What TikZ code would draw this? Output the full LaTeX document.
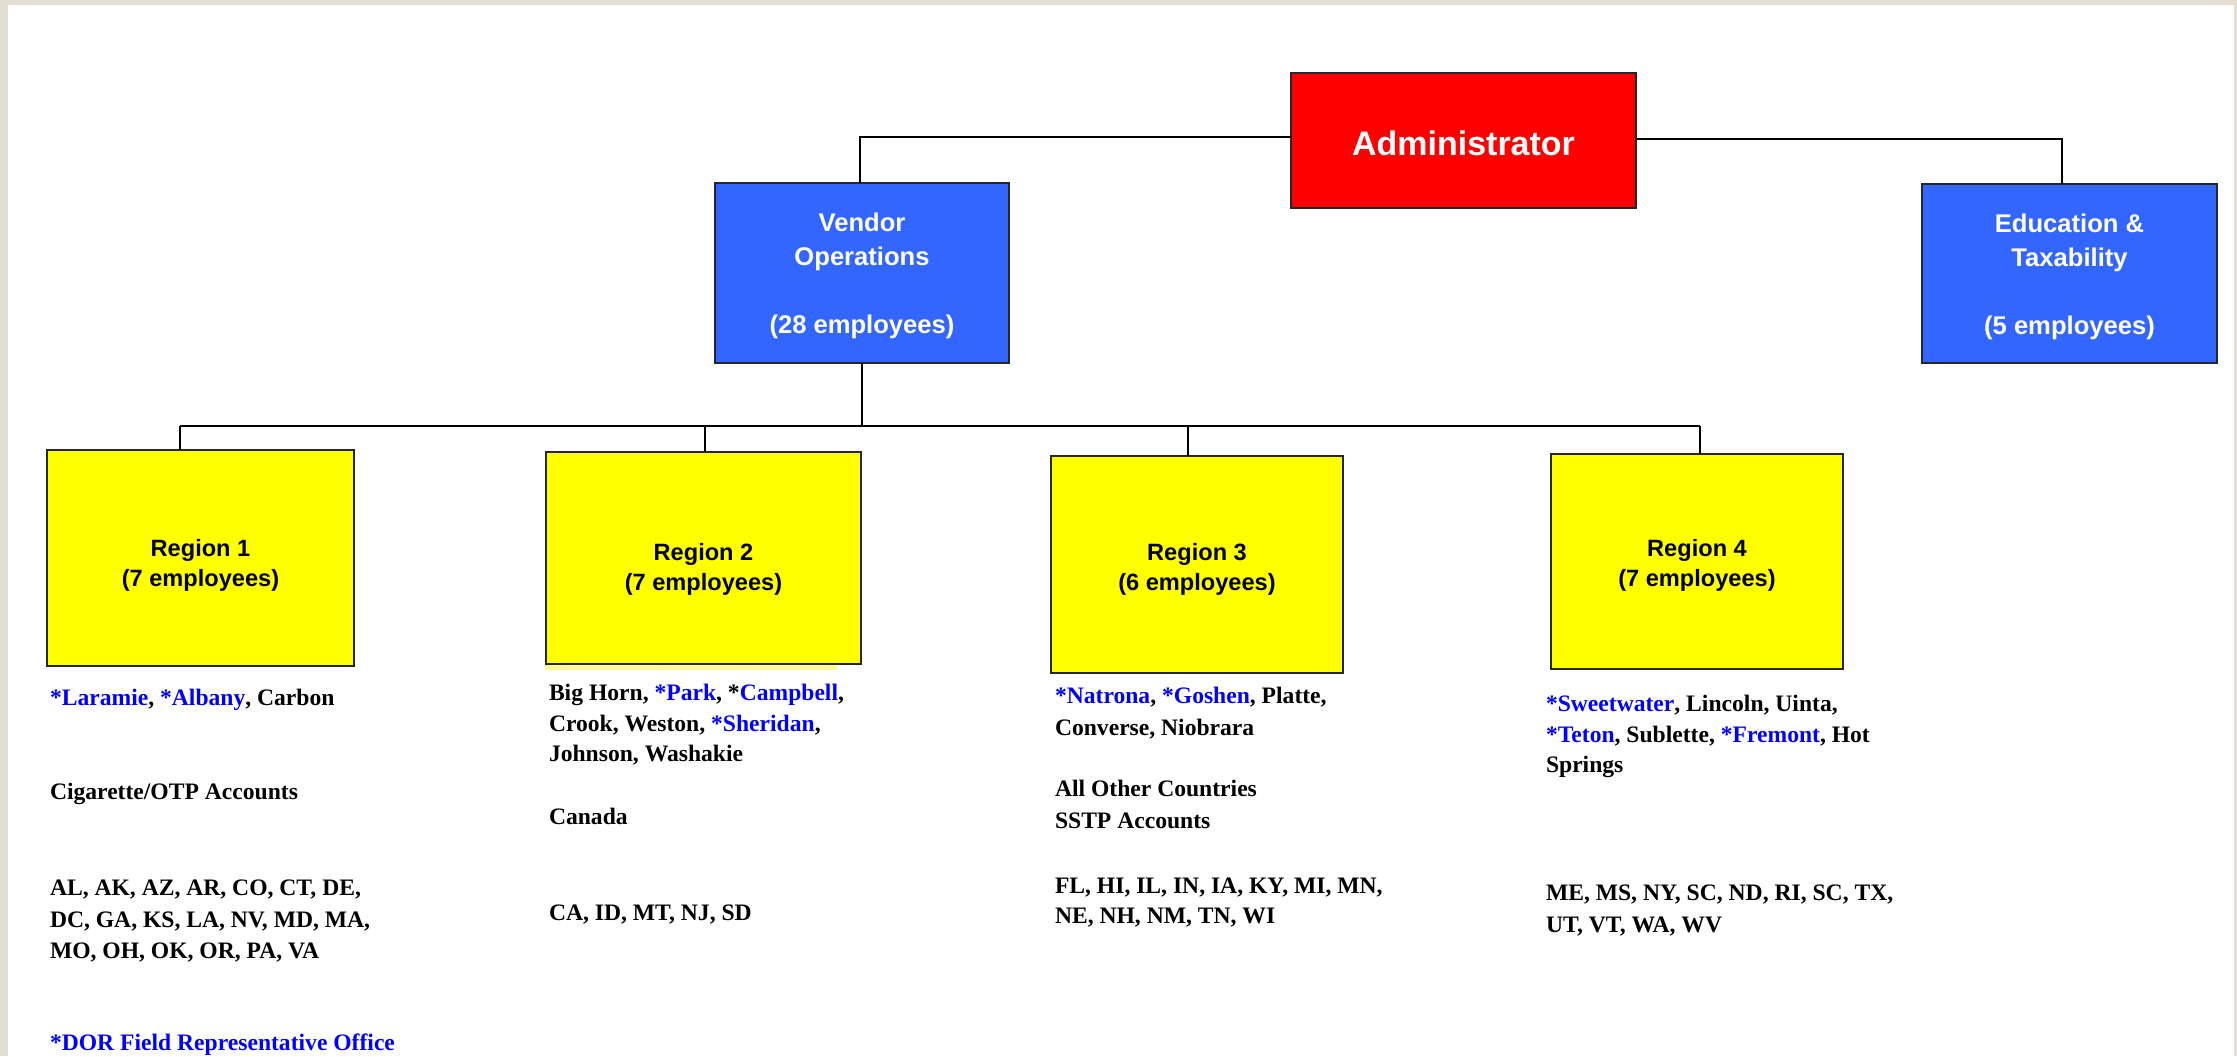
\documentclass[tikz,border=0pt]{standalone}
\usepackage{fontspec}
\newfontfamily\arialf{Liberation Sans}
\newfontfamily\timesf{Liberation Serif}
\definecolor{beige}{RGB}{229,222,212}
\definecolor{redbox}{RGB}{255,0,0}
\definecolor{bluebox}{RGB}{51,102,255}
\definecolor{yelbox}{RGB}{255,255,0}
\definecolor{paleyel}{RGB}{255,250,150}
\definecolor{rblue}{RGB}{0,0,255}
\newcommand{\bl}[1]{\textcolor{rblue}{#1}}
\newcommand{\tstrut}[1]{\rule{0pt}{#1}}
\tikzset{
  box/.style={draw=black!85, line width=1pt, inner sep=0pt, outer sep=0pt, align=center},
  adminbox/.style={box, fill=redbox, text=white, font=\arialf\bfseries\fontsize{17pt}{20pt}\selectfont},
  deptbox/.style={box, fill=bluebox, text=white, font=\arialf\bfseries\fontsize{12.8pt}{17pt}\selectfont},
  regbox/.style={box, fill=yelbox, text=black, font=\arialf\bfseries\fontsize{11.8pt}{15pt}\selectfont},
  lst/.style={anchor=base west, inner sep=0pt, outer sep=0pt, text=black, font=\timesf\bfseries\fontsize{11.8pt}{15.5pt}\selectfont},
  conn/.style={draw=black, line width=0.8pt}
}
\begin{document}
\begin{tikzpicture}[x=0.5pt, y=-0.5pt]
\useasboundingbox (0,0) rectangle (2237,1056);
\fill[beige] (0,0) rectangle (2237,1056);
\fill[white] (8,5) rectangle (2234,1060);

% pale shadow strip under Region 2
\fill[paleyel] (545,664) rectangle (837,670);

% boxes
\node[adminbox, minimum width=172.5pt, minimum height=67.5pt] (admin) at (1463.5,140.5) {\tstrut{15.2pt}Administrator};
\node[deptbox, minimum width=147pt, minimum height=90pt] (vendor) at (862,273) {\tstrut{12.2pt}Vendor\\Operations\\[17pt](28 employees)};
\node[deptbox, minimum width=147.5pt, minimum height=89.5pt] (edu) at (2069.5,273.5) {\tstrut{12.3pt}Education \&\\Taxability\\[17pt](5 employees)};
\node[regbox, minimum width=153.5pt, minimum height=108pt] (r1) at (200.5,558) {\tstrut{15.5pt}Region 1\\(7 employees)};
\node[regbox, minimum width=157.5pt, minimum height=106pt] (r2) at (703.5,558) {\tstrut{19.5pt}Region 2\\(7 employees)};
\node[regbox, minimum width=146pt, minimum height=108.5pt] (r3) at (1197,564.5) {\tstrut{13pt}Region 3\\(6 employees)};
\node[regbox, minimum width=146pt, minimum height=107.5pt] (r4) at (1697,561.5) {\tstrut{12pt}Region 4\\(7 employees)};

% connector points
\coordinate (ta) at (860,137);
\coordinate (te) at (2062,139);
\coordinate (bus) at (862,426);
\coordinate (b1) at (180,426);
\coordinate (b2) at (705,426);
\coordinate (b3) at (1188,426);
\coordinate (b4) at (1700,426);

% connectors
\draw[conn] (admin.west |- ta) -- (ta) -- (ta |- vendor.north);
\draw[conn] (admin.east |- te) -- (te) -- (te |- edu.north);
\draw[conn] (vendor.south) -- (bus);
\draw[conn] (b1) -- (b4);
\draw[conn] (b1) -- (b1 |- r1.north);
\draw[conn] (b2) -- (b2 |- r2.north);
\draw[conn] (b3) -- (b3 |- r3.north);
\draw[conn] (b4) -- (b4 |- r4.north);

% Region 1 texts
\node[lst] (t11) at (50,705) {\bl{*Laramie}, \bl{*Albany}, Carbon};
\node[lst] (t12) at (50,799) {Cigarette/OTP Accounts};
\node[lst] (t13) at (50,895) {AL, AK, AZ, AR, CO, CT, DE,};
\node[lst] (t14) at (50,927) {DC, GA, KS, LA, NV, MD, MA,};
\node[lst] (t15) at (50,958) {MO, OH, OK, OR, PA, VA};
\node[lst, text=rblue] (t16) at (50,1050) {*DOR Field Representative Office};

% Region 2 texts
\node[lst] (t21) at (549,700) {Big Horn, \bl{*Park}, *\bl{Campbell},};
\node[lst] (t22) at (549,731) {Crook, Weston, \bl{*Sheridan},};
\node[lst] (t23) at (549,761) {Johnson, Washakie};
\node[lst] (t24) at (549,824) {Canada};
\node[lst] (t25) at (549,920) {CA, ID, MT, NJ, SD};

% Region 3 texts
\node[lst] (t31) at (1055,703) {\bl{*Natrona}, \bl{*Goshen}, Platte,};
\node[lst] (t32) at (1055,735) {Converse, Niobrara};
\node[lst] (t33) at (1055,796) {All Other Countries};
\node[lst] (t34) at (1055,828) {SSTP Accounts};
\node[lst] (t35) at (1055,893) {FL, HI, IL, IN, IA, KY, MI, MN,};
\node[lst] (t36) at (1055,923) {NE, NH, NM, TN, WI};

% Region 4 texts
\node[lst] (t41) at (1546,711) {\bl{*Sweetwater}, Lincoln, Uinta,};
\node[lst] (t42) at (1546,742) {\bl{*Teton}, Sublette, \bl{*Fremont}, Hot};
\node[lst] (t43) at (1546,772) {Springs};
\node[lst] (t44) at (1546,900) {ME, MS, NY, SC, ND, RI, SC, TX,};
\node[lst] (t45) at (1546,932) {UT, VT, WA, WV};
\end{tikzpicture}
\end{document}
